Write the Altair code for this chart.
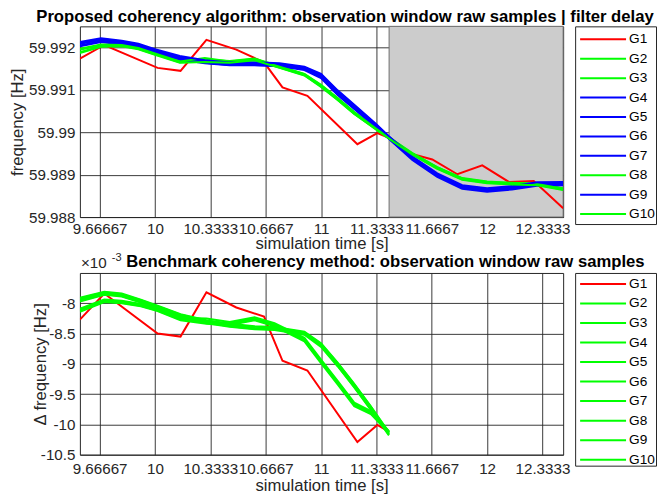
import altair as alt
import pandas as pd

FONT = "Liberation Sans"
AX_FS = 15.2      # tick labels
TI_FS = 16.7      # titles / axis titles
LEG_FS = 13.7     # legend labels

SERIES = ["G1", "G2", "G3", "G4", "G5", "G6", "G7", "G8", "G9", "G10"]
TOP_COLORS = ["#ff0000", "#00ff00", "#00ff00", "#0000ff", "#0000ff",
              "#0000ff", "#0000ff", "#00ff00", "#0000ff", "#00ff00"]
BOT_COLORS = ["#ff0000", "#00ff00", "#00ff00", "#00ff00", "#00ff00",
              "#00ff00", "#00ff00", "#00ff00", "#00ff00", "#00ff00"]

X_DOMAIN = [9.548, 12.458]
X_TICKS = [9.666667, 10.0, 10.333333, 10.666667, 11.0, 11.333333, 11.666667, 12.0, 12.333333]
TOP_Y_DOMAIN = [59.988, 59.9925]
TOP_Y_TICKS = [59.988, 59.989, 59.99, 59.991, 59.992]
BOT_Y_DOMAIN = [-10.5, -7.5]
BOT_Y_TICKS = [-10.5, -10.0, -9.5, -9.0, -8.5, -8.0]
PATCH_T = [11.41, 12.458]

TOP_TITLE = "Proposed coherency algorithm: observation window raw samples | filter delay"
BOT_TITLE = "Benchmark coherency method: observation window raw samples"

# ---- top panel: frequency [Hz] ----
T_RED_TOP = [9.548, 9.695, 10.016, 10.154, 10.310, 10.490, 10.657, 10.768, 10.918,
             11.219, 11.339, 11.409, 11.520, 11.670, 11.821, 11.971, 12.131, 12.281, 12.458]
G1_TOP = [59.99174, 59.99206, 59.99152, 59.99145, 59.99218, 59.99195, 59.99165, 59.99106, 59.99086,
          59.98972, 59.98998, 59.98987, 59.98952, 59.98936, 59.98901, 59.98922, 59.98883, 59.98885, 59.98821]

T_TOP = [9.548, 9.675, 9.8, 9.9, 10.0, 10.15, 10.3, 10.45, 10.6, 10.75, 10.9, 11.0,
         11.1, 11.2, 11.333, 11.41, 11.55, 11.7, 11.85, 12.0, 12.15, 12.3, 12.458]
G2_TOP = [59.99195, 59.99206, 59.99207, 59.99200, 59.99187, 59.99168, 59.99172, 59.99168, 59.99174, 59.99156, 59.99138, 59.99112,
          59.99081, 59.99048, 59.99009, 59.98988, 59.98951, 59.98918, 59.98892, 59.98884, 59.98881, 59.98879, 59.98868]
G3_TOP = [59.99189, 59.99203, 59.99204, 59.99197, 59.99184, 59.99165, 59.99167, 59.99165, 59.99171, 59.99153, 59.99135, 59.99108,
          59.99077, 59.99044, 59.99007, 59.98986, 59.98948, 59.98915, 59.98889, 59.98881, 59.98878, 59.98876, 59.98865]
G4_TOP = [59.99211, 59.99220, 59.99214, 59.99207, 59.99194, 59.99178, 59.99168, 59.99163, 59.99163, 59.99161, 59.99153, 59.99136,
          59.99097, 59.99063, 59.99017, 59.98989, 59.98941, 59.98901, 59.98873, 59.98866, 59.98871, 59.98880, 59.98881]
G5_TOP = [59.99205, 59.99215, 59.99209, 59.99203, 59.99190, 59.99174, 59.99164, 59.99159, 59.99159, 59.99157, 59.99149, 59.99130,
          59.99090, 59.99057, 59.99012, 59.98985, 59.98937, 59.98897, 59.98869, 59.98862, 59.98867, 59.98876, 59.98877]
G6_TOP = [59.99209, 59.99218, 59.99212, 59.99206, 59.99193, 59.99176, 59.99166, 59.99161, 59.99161, 59.99159, 59.99151, 59.99133,
          59.99094, 59.99061, 59.99015, 59.98987, 59.98939, 59.98899, 59.98871, 59.98864, 59.98869, 59.98878, 59.98880]
G7_TOP = [59.99203, 59.99213, 59.99207, 59.99201, 59.99188, 59.99172, 59.99163, 59.99158, 59.99158, 59.99156, 59.99147, 59.99128,
          59.99088, 59.99055, 59.99011, 59.98984, 59.98935, 59.98895, 59.98867, 59.98860, 59.98865, 59.98874, 59.98875]
G8_TOP = [59.99197, 59.99207, 59.99206, 59.99199, 59.99186, 59.99167, 59.99175, 59.99167, 59.99173, 59.99155, 59.99137, 59.99111,
          59.99080, 59.99047, 59.99008, 59.98987, 59.98950, 59.98917, 59.98891, 59.98883, 59.98880, 59.98878, 59.98867]
G9_TOP = [59.99213, 59.99222, 59.99216, 59.99209, 59.99196, 59.99180, 59.99170, 59.99165, 59.99165, 59.99163, 59.99155, 59.99138,
          59.99099, 59.99065, 59.99019, 59.98990, 59.98943, 59.98903, 59.98875, 59.98868, 59.98873, 59.98882, 59.98883]
G10_TOP = [59.99187, 59.99202, 59.99203, 59.99196, 59.99183, 59.99164, 59.99166, 59.99164, 59.99170, 59.99152, 59.99134, 59.99107,
           59.99076, 59.99043, 59.99006, 59.98985, 59.98947, 59.98914, 59.98888, 59.98880, 59.98877, 59.98875, 59.98864]

# ---- bottom panel: delta frequency [x1e-3 Hz] ----
T_RED_BOT = [9.548, 9.695, 10.016, 10.154, 10.310, 10.490, 10.657, 10.768, 10.918, 11.219, 11.339, 11.409]
G1_BOT = [-8.27, -7.84, -8.50, -8.55, -7.82, -8.07, -8.22, -8.95, -9.11, -10.29, -10.01, -10.12]

T_BOT = [9.548, 9.695, 9.8, 9.915, 10.016, 10.154, 10.310, 10.45, 10.6, 10.72, 10.9, 11.0, 11.1, 11.2, 11.3, 11.409]
G2_BOT = [-8.09, -7.94, -7.96, -8.01, -8.09, -8.24, -8.25, -8.31, -8.23, -8.33, -8.57, -8.93, -9.28, -9.64, -9.78, -10.11]
G3_BOT = [-8.11, -7.95, -7.97, -8.02, -8.10, -8.25, -8.30, -8.33, -8.25, -8.35, -8.59, -8.95, -9.30, -9.66, -9.80, -10.12]
G4_BOT = [-7.92, -7.82, -7.85, -7.95, -8.05, -8.19, -8.29, -8.35, -8.39, -8.40, -8.48, -8.67, -8.99, -9.34, -9.71, -10.14]
G5_BOT = [-7.94, -7.84, -7.87, -7.97, -8.07, -8.21, -8.31, -8.37, -8.41, -8.42, -8.50, -8.69, -9.01, -9.36, -9.73, -10.16]
G6_BOT = [-7.96, -7.85, -7.88, -7.98, -8.08, -8.22, -8.32, -8.38, -8.42, -8.43, -8.51, -8.70, -9.03, -9.38, -9.75, -10.17]
G7_BOT = [-7.91, -7.81, -7.84, -7.94, -8.04, -8.18, -8.28, -8.34, -8.38, -8.39, -8.47, -8.66, -8.98, -9.33, -9.70, -10.13]
G8_BOT = [-8.13, -7.97, -7.99, -8.04, -8.12, -8.27, -8.32, -8.35, -8.27, -8.37, -8.61, -8.97, -9.32, -9.68, -9.82, -10.13]
G9_BOT = [-7.97, -7.86, -7.89, -7.99, -8.09, -8.23, -8.33, -8.39, -8.43, -8.44, -8.52, -8.72, -9.04, -9.39, -9.76, -10.18]
G10_BOT = [-8.14, -7.98, -8.00, -8.05, -8.13, -8.28, -8.34, -8.36, -8.28, -8.38, -8.63, -8.99, -9.34, -9.70, -9.83, -10.14]


def long_df(series_data):
    rows = []
    for name, ts, vs in series_data:
        for i, (t, v) in enumerate(zip(ts, vs)):
            rows.append({"series": name, "t": t, "v": v, "i": i})
    return pd.DataFrame(rows)


top_df = long_df([
    ("G1", T_RED_TOP, G1_TOP), ("G2", T_TOP, G2_TOP), ("G3", T_TOP, G3_TOP),
    ("G4", T_TOP, G4_TOP), ("G5", T_TOP, G5_TOP), ("G6", T_TOP, G6_TOP),
    ("G7", T_TOP, G7_TOP), ("G8", T_TOP, G8_TOP), ("G9", T_TOP, G9_TOP),
    ("G10", T_TOP, G10_TOP),
])
bot_df = long_df([
    ("G1", T_RED_BOT, G1_BOT), ("G2", T_BOT, G2_BOT), ("G3", T_BOT, G3_BOT),
    ("G4", T_BOT, G4_BOT), ("G5", T_BOT, G5_BOT), ("G6", T_BOT, G6_BOT),
    ("G7", T_BOT, G7_BOT), ("G8", T_BOT, G8_BOT), ("G9", T_BOT, G9_BOT),
    ("G10", T_BOT, G10_BOT),
])


def x_enc(label_pad, title_y):
    return alt.X(
        "t:Q",
        scale=alt.Scale(domain=X_DOMAIN, nice=False, zero=False),
        axis=alt.Axis(
            values=X_TICKS, labelExpr="format(datum.value, '.6~g')",
            title="simulation time [s]", labelBaseline="alphabetic",
            labelPadding=label_pad, titleY=title_y, titleBaseline="alphabetic",
            labelOverlap=False, labelFlush=False, labelBound=False,
        ),
    )


def y_enc(domain, ticks, title, title_x, expr):
    return alt.Y(
        "v:Q",
        scale=alt.Scale(domain=domain, nice=False, zero=False),
        axis=alt.Axis(
            values=ticks, labelExpr=expr, title=title, titleX=title_x,
            labelPadding=5, labelOverlap=False, labelFlush=False, labelBound=False,
        ),
    )


def text_layer(s, x, y, size, weight="normal", align="left", color="#262626"):
    return alt.Chart(pd.DataFrame({"s": [s]})).mark_text(
        align=align, baseline="alphabetic", fontSize=size, font=FONT,
        fontWeight=weight, color=color,
    ).encode(x=alt.value(x), y=alt.value(y), text="s:N")


def panel(df, colors, height, y_domain, y_ticks, y_title, title_x, expr,
          label_pad, title_y, title_text, title_cx, title_y_px, patch=False, exponent=False):
    X = x_enc(label_pad, title_y)
    Y = y_enc(y_domain, y_ticks, y_title, title_x, expr)
    layers = []
    if patch:
        pdf = pd.DataFrame({"t": [PATCH_T[0]], "t2": [PATCH_T[1]],
                            "v": [y_domain[0]], "v2": [y_domain[1]]})
        layers.append(
            alt.Chart(pdf).mark_rect(color="#cccccc", stroke="#6e6e6e", strokeWidth=1)
            .encode(x=X, x2="t2:Q", y=Y, y2="v2:Q")
        )
    layers.append(
        alt.Chart(df).mark_line(strokeWidth=2, clip=True).encode(
            x=X, y=Y,
            color=alt.Color("series:N", scale=alt.Scale(domain=SERIES, range=colors), legend=None),
            detail="series:N",
            order="i:Q",
        )
    )
    layers.append(text_layer(title_text, title_cx, title_y_px, TI_FS, "bold", "center", "black"))
    if exponent:
        layers.append(text_layer("\u00d710", 1, -5, AX_FS))
        layers.append(text_layer("-3", 32, -12, 11))
    return alt.layer(*layers).properties(width=484, height=height)


def legend_chart(colors, height, rng):
    ldf = pd.DataFrame({"series": SERIES})
    base = alt.Chart(ldf).encode(
        y=alt.Y("series:N", sort=SERIES,
                scale=alt.Scale(type="point", domain=SERIES, range=rng, padding=0), axis=None)
    )
    rules = base.mark_rule(strokeWidth=2).encode(
        x=alt.value(5), x2=alt.value(51),
        color=alt.Color("series:N", scale=alt.Scale(domain=SERIES, range=colors), legend=None),
    )
    texts = base.mark_text(align="left", baseline="middle", fontSize=LEG_FS, font=FONT,
                           color="black", clip=True).encode(x=alt.value(54), text="series:N")
    return alt.layer(rules, texts).properties(width=81, height=height)


top = panel(top_df, TOP_COLORS, 191, TOP_Y_DOMAIN, TOP_Y_TICKS, "frequency [Hz]", -53,
            "format(datum.value, '.3~f')", 16, 31.5, TOP_TITLE, 265.5, -4, patch=True)
bot = panel(bot_df, BOT_COLORS, 182, BOT_Y_DOMAIN, BOT_Y_TICKS, "\u0394 frequency [Hz]", -30,
            "toString(datum.value)", 18.5, 36, BOT_TITLE, 306, -6, exponent=True)

top_leg = legend_chart(TOP_COLORS, 198, [13, 188])
bot_leg = legend_chart(BOT_COLORS, 193, [11, 187])

chart = alt.concat(
    top, top_leg, bot, bot_leg, columns=2,
    spacing={"row": 49, "column": 12}, bounds="flush",
).resolve_scale(
    x="independent", y="independent", color="independent"
).properties(
    padding={"left": 1, "top": 0, "right": 0, "bottom": 0},
    background="white",
).configure_view(
    stroke="#262626", strokeWidth=1, fill="white"
).configure_axis(
    grid=True, gridColor="#262626", gridWidth=1, gridOpacity=0.9,
    ticks=False, domain=False,
    labelFont=FONT, labelFontSize=AX_FS, labelColor="#262626",
    titleFont=FONT, titleFontSize=TI_FS, titleFontWeight="normal", titleColor="#262626",
)

chart.save("out.html", embed_options={"renderer": "svg", "actions": False})
